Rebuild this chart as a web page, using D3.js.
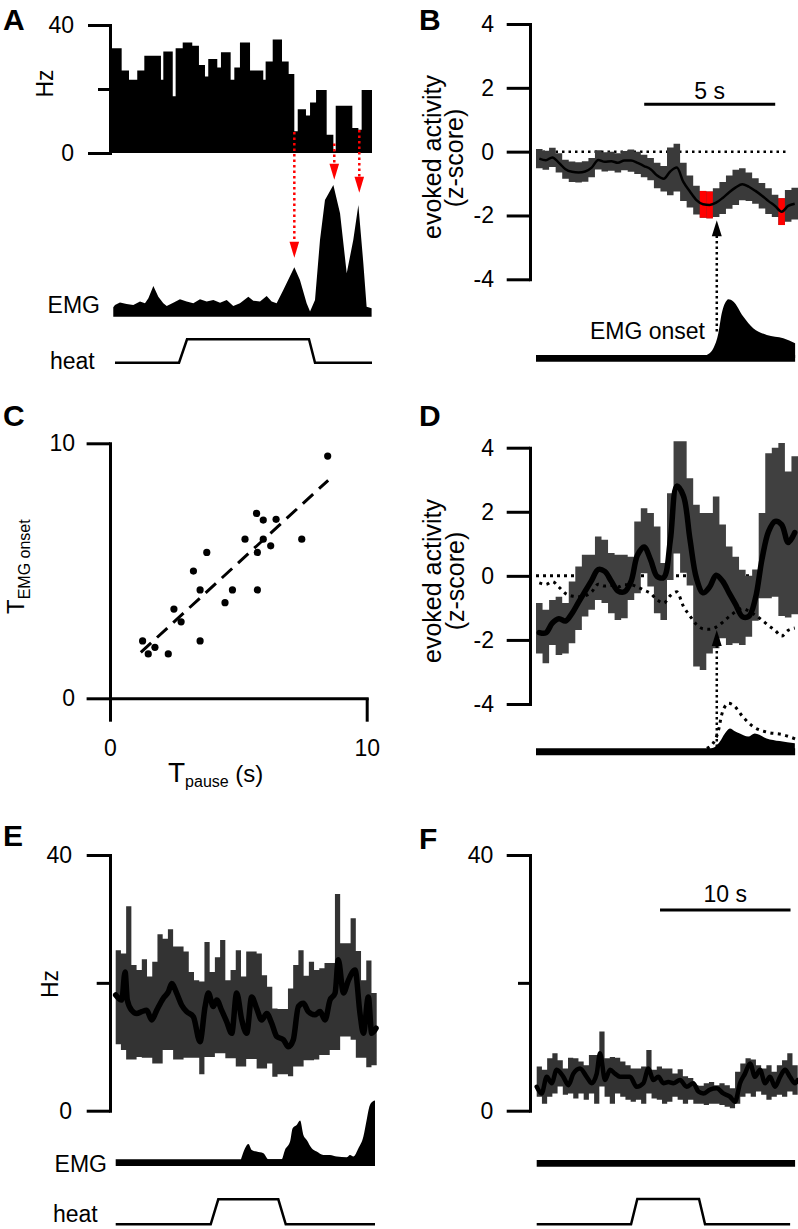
<!DOCTYPE html>
<html><head><meta charset="utf-8">
<script src="https://cdnjs.cloudflare.com/ajax/libs/d3/7.8.5/d3.min.js"></script>
<style>body{margin:0;background:#fff}svg{display:block}</style>
</head><body>
<svg id="fig" width="798" height="1229"></svg>
<script>
// ---------------- DATA ----------------
// Panel A: firing-rate histogram (bin edges in s, rate in Hz)
const aBinEdges = [0,0.89,1.45,2.08,2.62,3.89,4.07,4.79,5.01,5.55,6.28,6.79,7.25,7.50,8.19,8.47,9.21,9.49,9.92,10.69,11.70,11.88,12.42,13.13,13.64,14.07,14.33,14.96,15.27,15.73,16.54,17.05,17.23,18.50,18.96,19.21,20];
const aRate = [32.7,25.8,22.9,25.8,30.4,22.9,31.7,17.7,32.7,34.5,33.5,27.5,23.9,29.4,26.7,31.5,22.9,26.7,34.5,25.8,22.9,28.6,35.5,28.6,24.7,6.8,13.7,11.7,15.8,19.7,5.7,0.8,14.8,7.8,7.3,19.7];
const aEmg = [[0.25,6],[0.38,7.7],[0.76,9.7],[1.27,8.5],[1.78,7.7],[2.29,10.3],[2.67,9.0],[2.93,12.8],[3.31,22.3],[3.69,14.1],[4.07,9.0],[4.33,6.9],[4.83,9.5],[5.34,12.1],[5.85,10.3],[6.36,9.0],[6.87,12.1],[7.38,10.3],[7.89,11.5],[8.40,9.5],[8.91,11.5],[9.41,6.9],[9.92,9.0],[10.56,14.1],[10.94,11.0],[11.45,10.3],[11.96,14.6],[12.34,10.3],[12.72,9.0],[13.23,19.2],[14.07,36.7],[14.50,26.9],[15.01,9.0],[15.27,2.6],[15.65,11.5],[16.03,57.7],[16.41,88.5],[17.05,100],[17.56,78.2],[18.07,32.1],[18.57,57.7],[18.96,84.6],[19.34,39.7],[19.59,6.4],[19.97,5.1]];
const aHeat = [[0.38,0],[5.27,0],[5.88,1],[15.19,1],[15.65,0],[20,0]];
const aArrowT = [14.07,17.12,19.03];
const aArrowFromHz = [6.6,3.0,7.2];
const aArrowToEmg = [44,104,94];

// Panel B: evoked activity (z-score), 0.25 s bins from -6.9 s
const bStart = -6.9, bBin = 0.25;
const bMean = [-0.22,-0.27,-0.18,-0.35,-0.55,-0.63,-0.65,-0.62,-0.50,-0.26,-0.32,-0.30,-0.35,-0.28,-0.28,-0.35,-0.45,-0.55,-0.75,-0.85,-0.62,-0.50,-0.95,-1.25,-1.52,-1.65,-1.67,-1.60,-1.45,-1.27,-1.12,-1.02,-1.10,-1.23,-1.38,-1.55,-1.70,-1.88,-1.70,-1.63];
const bSem = [0.3,0.3,0.3,0.3,0.3,0.32,0.32,0.32,0.3,0.3,0.3,0.3,0.3,0.3,0.35,0.35,0.35,0.35,0.4,0.4,0.75,0.75,0.6,0.5,0.45,0.42,0.42,0.45,0.5,0.52,0.55,0.5,0.45,0.4,0.4,0.4,0.35,0.42,0.5,0.5];
const bRedBins = [25,26,37];
const bEmg = [[-0.38,0],[-0.13,0.12],[0.06,0.39],[0.19,0.75],[0.38,0.98],[0.44,1.0],[0.63,0.96],[1.01,0.69],[1.39,0.48],[1.91,0.36],[2.54,0.30],[2.99,0.21]];
const bEnd = 2.99, bZeroEnd = 2.72;
const bArrowTip = -2.15, bArrowTailEmg = 0.42;
const bScaleBar = [-2.77, 2.23];

// Panel C: scatter
const cPause = [8.48,5.71,5.97,6.47,5.26,5.97,7.47,6.26,5.74,3.77,3.25,3.51,4.77,5.74,4.48,2.49,2.77,1.27,1.75,1.49,2.27,3.51];
const cOnset = [9.50,7.25,6.99,7.02,6.24,6.24,6.24,5.98,5.72,5.72,4.99,4.25,4.25,4.25,3.75,3.50,3.00,2.25,2.00,1.74,1.74,2.25];
const cFit = [[1.2,1.8],[8.5,8.55]];

// Panel D
const dMean = [-1.77,-1.78,-1.47,-1.34,-1.41,-1.17,-0.82,-0.48,-0.14,0.2,0.14,-0.17,-0.47,-0.5,-0.18,0.65,0.9,0.5,-0.02,-0.05,1.1,2.8,2.5,1.15,-0.08,-0.53,-0.35,0.02,-0.17,-0.54,-0.9,-1.27,-1.26,-0.7,0.52,1.38,1.7,1.6,1.04,1.35];
const dHi = [-0.85,-1.06,-0.75,-0.65,-0.85,-0.18,0.29,0.66,0.66,1.23,1.13,0.71,0.66,0.66,0.6,1.7,2.11,1.96,1.54,0.4,2.58,4.2,4.2,3.05,2.22,1.96,1.96,2.48,1.6,0.92,0.6,0.19,0.0,0.2,1.96,3.83,4.0,4.15,3.26,3.73];
const dLo = [-2.42,-2.73,-2.16,-2.47,-2.42,-2.1,-1.69,-1.27,-1.06,-0.75,-0.85,-1.17,-1.38,-1.32,-0.75,-0.54,0.08,-0.33,-1.17,-1.38,-0.13,0.7,0.1,-0.3,-2.83,-2.94,-2.42,-2.26,-1.95,-2.16,-2.1,-2.16,-1.9,-1.4,-0.7,-0.7,-0.65,-1.25,-1.3,-1.2];
const dEmg = [[-0.2,0],[-0.07,0.03],[0.12,0.15],[0.31,0.33],[0.5,0.44],[0.69,0.38],[0.88,0.33],[1.2,0.26],[1.45,0.33],[1.9,0.22],[2.4,0.16],[2.98,0.11]];
const dArrowTip = -1.69, dArrowTailEmg = 0.03;

// Panel E: rate (Hz) band in 0.4 s bins, mean trace, EMG
const efBin = 0.4;
const eHi = [25.1,24.6,32.0,22.8,22.0,23.7,21.0,23.3,27.6,26.9,28.4,25.7,25.7,24.9,21.7,20.4,20.2,26.4,21.7,24.0,26.7,20.4,22.0,25.1,21.0,24.9,24.9,24.6,21.2,19.4,16.0,15.9,15.9,19.1,22.8,25.1,21.1,23.3,22.0,22.3,23.1,23.1,33.9,26.2,26.2,30.1,25.0,20.4,23.5,18.4];
const eLo = [10.4,9.5,8.0,8.0,8.4,8.3,8.3,7.4,7.4,9.5,9.5,8.0,8.0,8.3,8.3,8.3,5.7,8.4,8.4,9.0,9.0,8.2,8.2,6.9,6.9,8.1,8.1,6.6,6.6,7.4,5.3,5.7,5.7,5.4,6.9,6.9,7.9,7.9,8.0,8.7,8.7,9.5,9.5,11.6,11.6,11.1,8.3,8.3,6.8,7.1];
const eLine = [[0,18.1],[0.46,17.3],[0.72,21.7],[0.89,17.3],[1.23,15.7],[1.61,15.2],[1.99,15.5],[2.38,15.7],[2.76,14.2],[3.14,15.7],[3.65,17.6],[4.04,18.6],[4.29,19.9],[4.67,18.4],[5.06,16.5],[5.44,15.5],[5.95,14.7],[6.46,10.8],[6.85,16.3],[7.10,18.4],[7.48,16.3],[7.74,17.3],[8.12,15.7],[8.51,13.9],[8.89,12.1],[9.27,18.4],[9.66,14.2],[10.04,12.1],[10.42,17.8],[10.80,16.0],[11.19,14.2],[11.57,15.2],[11.95,13.7],[12.34,11.6],[12.85,11.1],[13.23,10.0],[13.61,11.1],[14.00,16.3],[14.38,16.8],[14.76,15.5],[15.27,15.0],[15.66,15.5],[16.04,14.2],[16.42,17.3],[16.81,18.4],[17.06,23.6],[17.45,18.4],[17.83,20.4],[18.34,22.0],[18.72,15.2],[18.98,12.1],[19.36,17.8],[19.62,12.1],[19.95,12.9]];
const eEmg = [[9.6,0],[9.91,11],[10.17,15.3],[10.42,9.3],[10.80,7.7],[11.32,6],[11.70,0],[12.72,0],[12.97,9.3],[13.36,17.7],[13.56,31],[13.87,34.3],[14.13,38.7],[14.38,24.3],[14.64,19.3],[15.02,11],[15.40,7.7],[15.91,4.3],[16.42,4.3],[16.94,2.7],[17.70,2],[17.96,4.3],[18.21,2.7],[18.60,11],[18.98,22.7],[19.23,39.3],[19.44,52.7],[19.69,57.7],[19.87,58.7]];
const eEmgEnd = 19.87;
const eHeat = [[0,0],[7.28,0],[7.86,1],[12.46,1],[13.03,0],[19.87,0]];

// Panel F
const fHi = [6.9,6.4,8.2,9.0,7.9,6.6,8.3,8.2,7.7,7.1,8.7,8.7,12.4,8.2,8.4,8.3,7.7,7.1,6.6,6.6,6.9,9.5,6.4,6.9,6.6,6.6,5.8,6.5,5.4,5.1,4.0,3.9,4.3,4.5,4.0,4.3,4.0,3.5,6.1,7.4,8.2,8.0,7.1,6.6,7.1,6.1,7.1,7.9,9.0,7.1];
const fLo = [2.2,1.1,2.2,2.7,3.8,2.5,2.7,1.9,2.7,1.7,2.7,1.1,3.8,2.2,1.1,2.7,2.2,1.7,1.4,1.7,1.1,2.7,1.9,1.7,1.1,1.4,2.2,1.7,1.1,1.7,1.1,1.1,0.9,1.1,1.1,0.9,0.6,0.4,1.1,2.2,2.7,2.2,3.0,2.5,1.7,2.2,2.5,2.2,3.0,2.5];
const fLine = [[0,3.75],[0.38,2.7],[0.77,5.3],[1.15,4.3],[1.53,6.4],[2.04,5.3],[2.43,4.0],[2.81,5.8],[3.32,6.6],[3.83,5.3],[4.21,4.3],[4.6,5.8],[4.85,9.0],[5.24,4.8],[5.62,6.4],[6.0,5.8],[6.39,5.3],[6.77,5.3],[7.15,5.3],[7.66,3.75],[8.17,4.3],[8.56,6.6],[8.94,4.8],[9.32,5.3],[9.71,4.3],[10.09,4.5],[10.47,4.3],[10.98,4.8],[11.49,3.75],[12.0,4.3],[12.39,3.0],[12.77,2.7],[13.28,3.3],[13.79,3.5],[14.3,2.7],[14.81,2.2],[15.2,1.4],[15.58,4.3],[15.96,5.8],[16.35,7.4],[16.73,5.3],[17.11,6.4],[17.5,4.3],[17.88,5.3],[18.26,3.75],[18.65,5.3],[19.03,6.4],[19.41,5.3],[19.8,4.3],[20,4.8]];
const fEmgEnd = 19.8;
const fHeat = [[0,0],[7.23,0],[7.71,1],[12.44,1],[12.9,0],[19.42,0]];
const fScaleBar = [9.45, 19.45];

// ---------------- DRAWING ----------------
const FONT = "Arial, 'Liberation Sans', Helvetica, sans-serif";
const svg = d3.select("#fig");
svg.append("rect").attr("width",798).attr("height",1229).attr("fill","#fff");

function txt(x,y,s,opt={}){
  const t = svg.append("text").attr("x",x).attr("y",y).text(s)
    .attr("font-family",FONT).attr("font-size",opt.size||23)
    .attr("text-anchor",opt.anchor||"start").attr("fill","#000");
  if(opt.bold) t.attr("font-weight","bold");
  if(opt.rot) t.attr("transform",`rotate(-90,${x},${y})`);
  return t;
}
function styleAxis(g){
  g.attr("font-size",null).attr("font-family",null);
  g.select(".domain").attr("stroke","#000").attr("stroke-width",3).attr("stroke-linecap","square");
  g.selectAll(".tick line").attr("stroke","#000").attr("stroke-width",3);
  g.selectAll(".tick text").attr("font-family",FONT).attr("font-size",23).attr("fill","#000");
}
const fmt = d => String(d);
function stepBand(lo,hi,start,width){
  return lo.flatMap((l,i)=>[[start+i*width,l,hi[i]],[start+(i+1)*width,l,hi[i]]]);
}

// ===== Panel A =====
const xA = d3.scaleLinear([0,20],[110,372]);
const yA = d3.scaleLinear([0,40],[153,25]);
const yEmgA = d3.scaleLinear([0,100],[315,185]);
const yHeatA = d3.scaleLinear([0,1],[362.7,339.3]);
const histPts = aRate.flatMap((v,i)=>[[aBinEdges[i],v],[aBinEdges[i+1],v]]);
svg.append("path").attr("fill","#000")
  .attr("d", d3.area().x(d=>xA(d[0])).y0(yA(0)).y1(d=>yA(d[1]))(histPts));
svg.append("path").attr("fill","#000")
  .attr("d", d3.area().x(d=>xA(d[0])).y0(yEmgA(-1.3)).y1(d=>yEmgA(d[1])).curve(d3.curveLinear)(aEmg));
svg.append("path").attr("fill","none").attr("stroke","#000").attr("stroke-width",2.5)
  .attr("d", d3.line().x(d=>xA(d[0])).y(d=>yHeatA(d[1]))(aHeat));
const gA = svg.append("g").attr("transform",`translate(${xA(0)},0)`)
  .call(d3.axisLeft(yA).tickValues([0,20,40]).tickSize(22).tickSizeOuter(0).tickPadding(14).tickFormat(d=>d===20?"":fmt(d)));
styleAxis(gA);
gA.selectAll(".tick").filter(d=>d===20).select("line").attr("x2",-12);
aArrowT.forEach((t,i)=>{
  const x = xA(t), y0 = yA(aArrowFromHz[i]), tip = yEmgA(aArrowToEmg[i]);
  svg.append("line").attr("x1",x).attr("x2",x).attr("y1",y0).attr("y2",tip-14)
    .attr("stroke","#f00").attr("stroke-width",2.5).attr("stroke-dasharray","2.5,3");
  svg.append("path").attr("fill","#f00").attr("d",`M${x-4.8},${tip-16}L${x+4.8},${tip-16}L${x},${tip}Z`);
});
txt(3,30,"A",{size:30,bold:true});
txt(53,83.5,"Hz",{rot:true,anchor:"middle"});
txt(100,312.5,"EMG",{anchor:"end"});
txt(50,369,"heat");

// ===== Panel B =====
const xB = d3.scaleLinear([-6.9,3.1],[536,798]);
const yB = d3.scaleLinear([-4,4],[279.3,24]);
const yEmgB = d3.scaleLinear([0,1],[355,299.3]);
svg.append("line").attr("x1",xB(bStart)).attr("x2",xB(bZeroEnd)).attr("y1",yB(0)).attr("y2",yB(0))
  .attr("stroke","#000").attr("stroke-width",2.5).attr("stroke-dasharray","2.5,4");
const bLo = bMean.map((m,i)=>m-bSem[i]), bHiArr = bMean.map((m,i)=>m+bSem[i]);
svg.append("path").attr("fill","#3a3a3a")
  .attr("d", d3.area().x(d=>xB(d[0])).y0(d=>yB(d[1])).y1(d=>yB(d[2]))(stepBand(bLo,bHiArr,bStart,bBin)));
bRedBins.forEach(i=>{
  svg.append("rect").attr("x",xB(bStart+i*bBin)).attr("width",xB(bStart+(i+1)*bBin)-xB(bStart+i*bBin))
    .attr("y",yB(bHiArr[i])).attr("height",yB(bLo[i])-yB(bHiArr[i])).attr("fill","#f00");
});
svg.append("path").attr("fill","none").attr("stroke","#000").attr("stroke-width",2.5).attr("stroke-linejoin","round")
  .attr("d", d3.line().x((d,i)=>xB(bStart+(i+0.5)*bBin)).y(d=>yB(d)).curve(d3.curveMonotoneX)(bMean));
svg.append("line").attr("x1",xB(bStart)).attr("x2",xB(bEnd)).attr("y1",yEmgB(0)+3.3).attr("y2",yEmgB(0)+3.3)
  .attr("stroke","#000").attr("stroke-width",6.7);
svg.append("path").attr("fill","#000")
  .attr("d", d3.area().x(d=>xB(d[0])).y0(yEmgB(0)+3).y1(d=>yEmgB(d[1])).curve(d3.curveMonotoneX)(bEmg));
{
  const x = xB(0), tip = yB(bArrowTip), tail = yEmgB(bArrowTailEmg);
  svg.append("line").attr("x1",x).attr("x2",x).attr("y1",tail).attr("y2",tip+14)
    .attr("stroke","#000").attr("stroke-width",2.5).attr("stroke-dasharray","2.5,3");
  svg.append("path").attr("fill","#000").attr("d",`M${x-5},${tip+16}L${x+5},${tip+16}L${x},${tip}Z`);
}
svg.append("line").attr("x1",xB(bScaleBar[0])).attr("x2",xB(bScaleBar[1])).attr("y1",104.3).attr("y2",104.3)
  .attr("stroke","#000").attr("stroke-width",3);
txt((xB(bScaleBar[0])+xB(bScaleBar[1]))/2,99,"5 s",{anchor:"middle"});
const gB = svg.append("g").attr("transform",`translate(530,0)`)
  .call(d3.axisLeft(yB).tickValues([-4,-2,0,2,4]).tickSize(23.3).tickSizeOuter(0).tickPadding(12.7).tickFormat(fmt));
styleAxis(gB);
txt(705,338.5,"EMG onset",{anchor:"end"});
txt(419,30,"B",{size:30,bold:true});
txt(441,157,"evoked activity",{rot:true,anchor:"middle",size:25});
txt(463,158,"(z-score)",{rot:true,anchor:"middle",size:25});

// ===== Panel C =====
const xC = d3.scaleLinear([0,10],[110,366.7]);
const yC = d3.scaleLinear([0,10],[698.3,443.3]);
const gCx = svg.append("g").attr("transform",`translate(0,${yC(0)})`)
  .call(d3.axisBottom(xC).tickValues([0,10]).tickSize(23.4).tickSizeOuter(0).tickPadding(18.3).tickFormat(fmt));
styleAxis(gCx);
const gCy = svg.append("g").attr("transform",`translate(${xC(0)},0)`)
  .call(d3.axisLeft(yC).tickValues([0,10]).tickSize(23.4).tickSizeOuter(0).tickPadding(11.6).tickFormat(fmt));
styleAxis(gCy);
svg.append("path").attr("fill","none").attr("stroke","#000").attr("stroke-width",3).attr("stroke-dasharray","14,8")
  .attr("d", d3.line().x(d=>xC(d[0])).y(d=>yC(d[1]))(cFit));
svg.append("g").selectAll("circle").data(cPause).join("circle")
  .attr("cx",d=>xC(d)).attr("cy",(d,i)=>yC(cOnset[i])).attr("r",3.6).attr("fill","#000");
txt(3,426,"C",{size:30,bold:true});
{
  const t = svg.append("text").attr("font-family",FONT).attr("fill","#000")
    .attr("transform","translate(24,614) rotate(-90)");
  t.append("tspan").attr("font-size",24).text("T");
  t.append("tspan").attr("font-size",16).attr("dy",6).text("EMG onset");
}
{
  const t = svg.append("text").attr("font-family",FONT).attr("fill","#000").attr("x",168).attr("y",782);
  t.append("tspan").attr("font-size",28).text("T");
  t.append("tspan").attr("font-size",16).attr("dy",5).text("pause");
  t.append("tspan").attr("font-size",24).attr("dy",-5).text(" (s)");
}

// ===== Panel D =====
const xD = xB;
const yD = d3.scaleLinear([-4,4],[704,447.7]);
const yEmgD = d3.scaleLinear([0,1],[748.3,703.3]);
svg.append("line").attr("x1",xD(bStart)).attr("x2",xD(bZeroEnd)).attr("y1",yD(0)).attr("y2",yD(0))
  .attr("stroke","#000").attr("stroke-width",3).attr("stroke-dasharray","3,4");
svg.append("path").attr("fill","#404040")
  .attr("d", d3.area().x(d=>xD(d[0])).y0(d=>yD(d[1])).y1(d=>yD(d[2]))(stepBand(dLo,dHi,bStart,bBin)));
svg.append("path").attr("fill","none").attr("stroke","#000").attr("stroke-width",3).attr("stroke-dasharray","3,4.5")
  .attr("d", d3.line().x((d,i)=>xD(bStart+(i+0.5)*bBin)).y(d=>yD(d)).curve(d3.curveMonotoneX)(bMean));
svg.append("path").attr("fill","none").attr("stroke","#000").attr("stroke-width",5.5).attr("stroke-linejoin","round").attr("stroke-linecap","round")
  .attr("d", d3.line().x((d,i)=>xD(bStart+(i+0.5)*bBin)).y(d=>yD(d)).curve(d3.curveCatmullRom)(dMean));
svg.append("line").attr("x1",xD(bStart)).attr("x2",xD(bEnd)).attr("y1",yEmgD(0)+3.4).attr("y2",yEmgD(0)+3.4)
  .attr("stroke","#000").attr("stroke-width",7);
svg.append("path").attr("fill","#000")
  .attr("d", d3.area().x(d=>xD(d[0])).y0(yEmgD(0)+3).y1(d=>yEmgD(d[1])).curve(d3.curveMonotoneX)(dEmg));
svg.append("path").attr("fill","none").attr("stroke","#000").attr("stroke-width",3).attr("stroke-dasharray","3,4.5")
  .attr("d", d3.line().x(d=>xD(d[0])).y(d=>yEmgD(d[1])).curve(d3.curveMonotoneX)(bEmg));
{
  const x = xD(0), tip = yD(dArrowTip), tail = yEmgD(dArrowTailEmg);
  svg.append("line").attr("x1",x).attr("x2",x).attr("y1",tail).attr("y2",tip+14)
    .attr("stroke","#000").attr("stroke-width",2.5).attr("stroke-dasharray","2.5,3");
  svg.append("path").attr("fill","#000").attr("d",`M${x-5},${tip+16}L${x+5},${tip+16}L${x},${tip}Z`);
}
const gD = svg.append("g").attr("transform",`translate(530,0)`)
  .call(d3.axisLeft(yD).tickValues([-4,-2,0,2,4]).tickSize(23.3).tickSizeOuter(0).tickPadding(12.7).tickFormat(fmt));
styleAxis(gD);
txt(419,426,"D",{size:30,bold:true});
txt(441,581,"evoked activity",{rot:true,anchor:"middle",size:25});
txt(464,581,"(z-score)",{rot:true,anchor:"middle",size:25});

// ===== Panel E =====
const xE = d3.scaleLinear([0,20],[115.7,376.7]);
const yE = d3.scaleLinear([0,40],[1110.7,855]);
const yEmgE = d3.scaleLinear([0,60],[1159.3,1099.3]);
const yHeatE = d3.scaleLinear([0,1],[1224.3,1199.3]);
svg.append("path").attr("fill","#333")
  .attr("d", d3.area().x(d=>xE(d[0])).y0(d=>yE(d[1])).y1(d=>yE(d[2]))(stepBand(eLo,eHi,0,efBin)));
svg.append("path").attr("fill","none").attr("stroke","#000").attr("stroke-width",5.5).attr("stroke-linejoin","round").attr("stroke-linecap","round")
  .attr("d", d3.line().x(d=>xE(d[0])).y(d=>yE(d[1])).curve(d3.curveMonotoneX)(eLine));
svg.append("line").attr("x1",xE(0)).attr("x2",xE(eEmgEnd)).attr("y1",yEmgE(0)+3.4).attr("y2",yEmgE(0)+3.4)
  .attr("stroke","#000").attr("stroke-width",6.7);
svg.append("path").attr("fill","#000")
  .attr("d", d3.area().x(d=>xE(d[0])).y0(yEmgE(0)+3).y1(d=>yEmgE(d[1])).curve(d3.curveMonotoneX)(eEmg));
svg.append("path").attr("fill","none").attr("stroke","#000").attr("stroke-width",2.5)
  .attr("d", d3.line().x(d=>xE(d[0])).y(d=>yHeatE(d[1]))(eHeat));
const gE = svg.append("g").attr("transform",`translate(110,0)`)
  .call(d3.axisLeft(yE).tickValues([0,20,40]).tickSize(23.3).tickSizeOuter(0).tickPadding(14.7).tickFormat(d=>d===20?"":fmt(d)));
styleAxis(gE);
gE.selectAll(".tick").filter(d=>d===20).select("line").attr("x2",-13.3);
txt(3,846,"E",{size:30,bold:true});
txt(58,984,"Hz",{rot:true,anchor:"middle"});
txt(107,1171.5,"EMG",{anchor:"end"});
txt(53,1222,"heat");

// ===== Panel F =====
const xF = d3.scaleLinear([0,20],[536.7,797.7]);
const yF = yE.copy();
const yEmgF = d3.scaleLinear([0,60],[1160,1100]);
const yHeatF = d3.scaleLinear([0,1],[1224.3,1199]);
svg.append("path").attr("fill","#333")
  .attr("d", d3.area().x(d=>xF(d[0])).y0(d=>yF(d[1])).y1(d=>yF(d[2]))(stepBand(fLo,fHi,0,efBin)));
svg.append("path").attr("fill","none").attr("stroke","#000").attr("stroke-width",4.5).attr("stroke-linejoin","round").attr("stroke-linecap","round")
  .attr("d", d3.line().x(d=>xF(d[0])).y(d=>yF(d[1])).curve(d3.curveMonotoneX)(fLine));
svg.append("line").attr("x1",xF(0)).attr("x2",xF(fEmgEnd)).attr("y1",yEmgF(0)+3.3).attr("y2",yEmgF(0)+3.3)
  .attr("stroke","#000").attr("stroke-width",6.7);
svg.append("path").attr("fill","none").attr("stroke","#000").attr("stroke-width",2.5)
  .attr("d", d3.line().x(d=>xF(d[0])).y(d=>yHeatF(d[1]))(fHeat));
svg.append("line").attr("x1",xF(fScaleBar[0])).attr("x2",xF(fScaleBar[1])).attr("y1",910).attr("y2",910)
  .attr("stroke","#000").attr("stroke-width",3);
txt((xF(fScaleBar[0])+xF(fScaleBar[1]))/2,901.7,"10 s",{anchor:"middle"});
const gF = svg.append("g").attr("transform",`translate(530,0)`)
  .call(d3.axisLeft(yF).tickValues([0,20,40]).tickSize(23.3).tickSizeOuter(0).tickPadding(13.4).tickFormat(d=>d===20?"":fmt(d)));
styleAxis(gF);
gF.selectAll(".tick").filter(d=>d===20).select("line").attr("x2",-12);
txt(419,849,"F",{size:30,bold:true});
</script>
</body></html>
